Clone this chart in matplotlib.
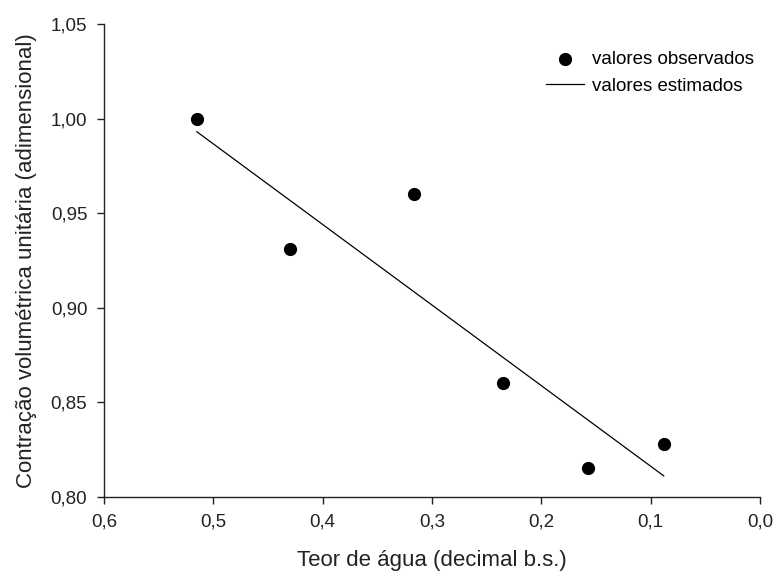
import matplotlib.pyplot as plt
from matplotlib.ticker import FuncFormatter

plt.rcParams['font.family'] = ['Liberation Sans', 'DejaVu Sans']

# observed points (water content, unit volumetric shrinkage)
teor_obs = [0.515, 0.430, 0.316, 0.235, 0.157, 0.088]
contr_obs = [1.000, 0.931, 0.960, 0.860, 0.815, 0.828]

# fitted line ends
teor_est = [0.515, 0.088]
contr_est = [0.993, 0.811]

x_ticks = [0.6, 0.5, 0.4, 0.3, 0.2, 0.1, 0.0]
y_ticks = [0.80, 0.85, 0.90, 0.95, 1.00, 1.05]


def virgula(fmt):
	return FuncFormatter(lambda v, pos: fmt.format(v).replace('.', ','))


fig = plt.figure(figsize=(7.77, 5.73), dpi=100)
ax = fig.add_axes([0.1338, 0.1332, 0.8443, 0.8249])

ax.scatter(teor_obs, contr_obs, s=72, color='black', zorder=3, label='valores observados')
ax.plot(teor_est, contr_est, color='black', lw=0.9, label='valores estimados')

ax.set_xlim(0.6, 0.0)
ax.set_ylim(0.80, 1.05)
ax.set_xticks(x_ticks)
ax.set_yticks(y_ticks)
ax.xaxis.set_major_formatter(virgula('{:.1f}'))
ax.yaxis.set_major_formatter(virgula('{:.2f}'))

for s in ['top', 'right']:
	ax.spines[s].set_visible(False)
for s in ['left', 'bottom']:
	ax.spines[s].set_linewidth(1.0)
	ax.spines[s].set_color('#222222')
ax.tick_params(direction='out', length=5, width=1.0, labelsize=13.5, colors='#222222', pad=7)

ax.set_xlabel('Teor de água (decimal b.s.)', fontsize=16, labelpad=14, color='#222222')
ax.set_ylabel('Contração volumétrica unitária (adimensional)', fontsize=16, labelpad=10, color='#222222')

ax.legend(loc='upper left', bbox_to_anchor=(546 / 777, 1 - 51 / 573), bbox_transform=fig.transFigure,
	frameon=False, fontsize=13.5, handlelength=2.0, handletextpad=0.45, labelspacing=0.5, borderpad=0,
	borderaxespad=0)

fig.savefig('out.png', dpi=100)
